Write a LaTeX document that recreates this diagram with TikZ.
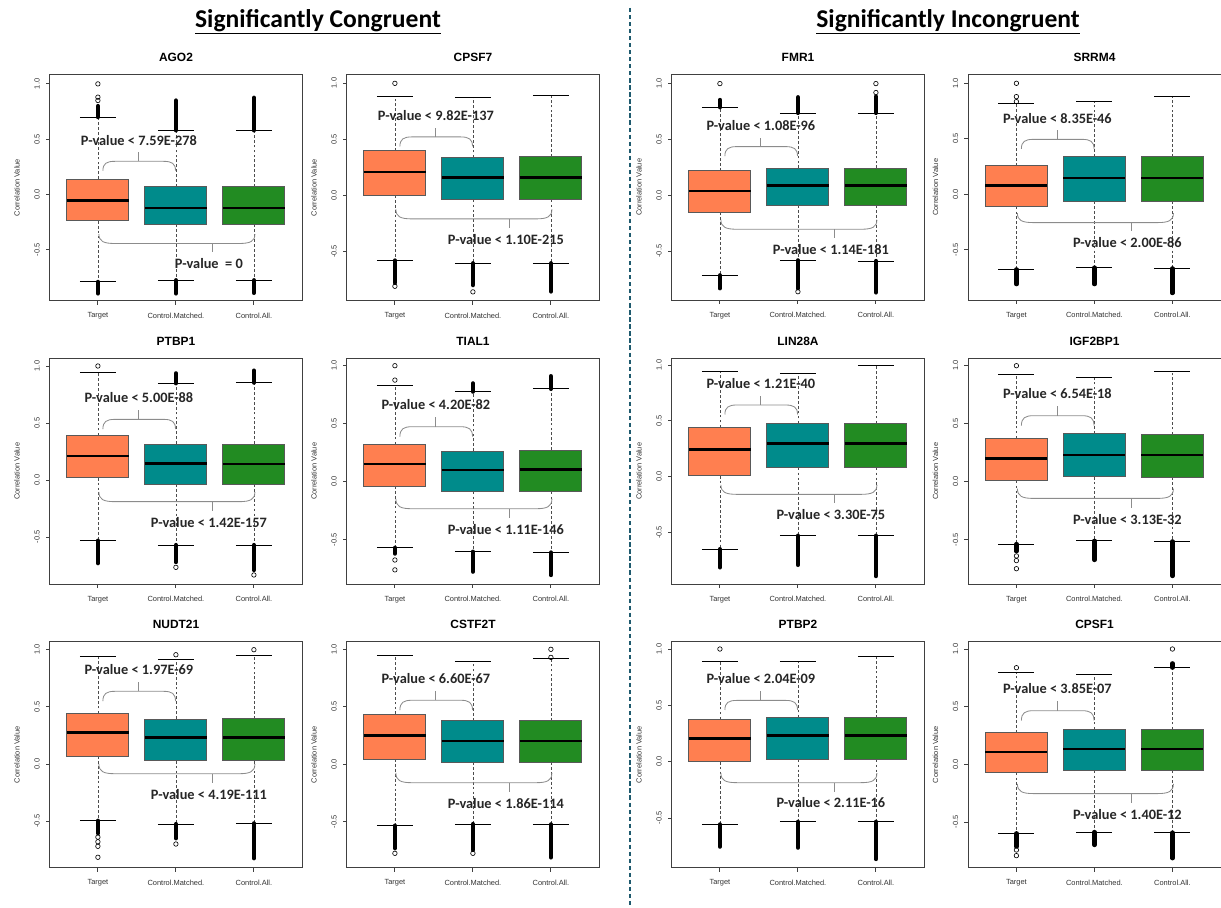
\documentclass[tikz,border=0pt]{standalone}
\usepackage{fontspec}
\setmainfont{Liberation Sans}
\newfontfamily\calfont{Carlito}

\definecolor{tgtcol}{RGB}{255,127,80}
\definecolor{mchcol}{RGB}{0,139,139}
\definecolor{allcol}{RGB}{34,139,34}
\definecolor{sepcol}{RGB}{30,90,110}
\definecolor{axcol}{RGB}{64,64,64}

\tikzset{
  frm/.style={draw=axcol, line width=0.6pt},
  bxs/.style={draw=black!65, line width=0.6pt},
  mdn/.style={black, line width=1.7pt},
  whisk/.style={black!70, line width=0.5pt, dash pattern=on 2pt off 1.5pt},
  stap/.style={black, line width=0.6pt},
  dens/.style={black, line width=3pt, line cap=round},
  dot/.style={circle, draw=black, line width=0.45pt, inner sep=0pt, minimum size=3.2pt},
  brk/.style={draw=black!45, line width=0.6pt},
  pval/.style={font=\calfont\bfseries\fontsize{10.2}{11}\selectfont, text=black!85},
  ttl/.style={font=\bfseries\fontsize{8.5}{9}\selectfont},
  axlab/.style={font=\fontsize{5.3}{6}\selectfont, text=black!80},
  head/.style={font=\calfont\bfseries\fontsize{18.2}{20}\selectfont},
}

% frame, title and axes of one panel: id, title, depth of zero line, px per unit
\newcommand{\panelaxes}[4]{%
  \pgfmathsetmacro{\frtop}{#3/#4}%
  \pgfmathsetmacro{\frbot}{-(226-#3)/#4}%
  \pgfmathsetmacro{\onepx}{1/#4}%
  \draw[frm] (0,\frbot) rectangle (253,\frtop);
  \node[ttl] (#1-title) at (126.5,\frtop+17*\onepx) {#2};
  \foreach \v/\lab [count=\k] in {1/1.0,0.5/0.5,0/0.0,-0.5/-0.5}{
    \draw[frm] (0,\v) -- (-4,\v);
    \node[axlab, rotate=90] (#1-ytick\k) at (-12.5,\v) {\lab};
  }
  \node[axlab, rotate=90] (#1-ylab) at (-32.5,{(\frtop+\frbot)/2}) {Correlation Value};
  \foreach \x/\lab [count=\k] in {48.4/Target,126.4/Control.Matched.,204.4/Control.All.}{
    \draw[frm] (\x,\frbot) -- (\x,\frbot-4*\onepx);
    \node[axlab] (#1-xlab\k) at (\x,\frbot-15*\onepx) {\lab};
  }
}
% one box: x, colour, q1, median, q3, lower whisker, upper whisker
\newcommand{\bx}[7]{%
  \draw[whisk] (#1,#5) -- (#1,#7);
  \draw[whisk] (#1,#3) -- (#1,#6);
  \draw[stap] (#1-18,#7) -- (#1+18,#7);
  \draw[stap] (#1-18,#6) -- (#1+18,#6);
  \filldraw[bxs, fill=#2] (#1-31,#3) rectangle (#1+31,#5);
  \draw[mdn] (#1-31,#4) -- (#1+31,#4);
}
\newcommand{\dns}[3]{\draw[dens] (#1,#2) -- (#1,#3);}
\newcommand{\pts}[3]{\foreach \v [count=\k] in {#3}{\node[dot] (#1-\k) at (#2,\v) {};}}
% brackets with p-values
\newcommand{\upbr}[3]{%
  \draw[brk] (53.4,#2-0.085) .. controls (53.4,#2-0.02) and (57,#2) .. (65.4,#2)
    -- (114,#2) .. controls (122.4,#2) and (126,#2-0.02) .. (126,#2-0.085);
  \draw[brk] (89.4,#2) -- (89.4,#2+0.08);
  \node[pval] (#1-up) at (89.4,#2+0.19) {#3};
}
\newcommand{\lowbr}[3]{%
  \draw[brk] (49.4,#2+0.085) .. controls (49.4,#2+0.02) and (54,#2) .. (65.4,#2)
    -- (189.4,#2) .. controls (200.8,#2) and (205.4,#2+0.02) .. (205.4,#2+0.085);
  \draw[brk] (163.4,#2) -- (163.4,#2-0.08);
  \node[pval] (#1-low) at (159.4,#2-0.18) {#3};
}

\begin{document}
\begin{tikzpicture}[x=0.025cm, y=-0.025cm]
\useasboundingbox (0,0) rectangle (1221,907);

\node[head] (congr) at (318,22) {\underline{Significantly Congruent}};
\node[head] (incongr) at (948,22) {\underline{Significantly Incongruent}};
\coordinate (sep-top) at (630,8);
\coordinate (sep-bot) at (630,907);
\draw[sepcol, line width=1.6pt, dash pattern=on 3pt off 2pt] (sep-top) -- (sep-bot);

% AGO2
\begin{scope}[shift={(49.5,194.5)}, yscale=-110.6]
  \panelaxes{ago}{AGO2}{120}{110.6}
  \bx{48.4}{tgtcol}{-0.238}{-0.054}{0.139}{-0.79}{0.70}
  \bx{126.4}{mchcol}{-0.271}{-0.12}{0.069}{-0.775}{0.58}
  \bx{204.4}{allcol}{-0.271}{-0.12}{0.069}{-0.775}{0.58}
  \dns{48.4}{0.70}{0.80} \dns{48.4}{-0.79}{-0.895}
  \dns{126.4}{0.58}{0.85} \dns{126.4}{-0.775}{-0.895}
  \dns{204.4}{0.58}{0.875} \dns{204.4}{-0.775}{-0.89}
  \pts{ago-t}{48.4}{0.85,0.88,1.0}
  \upbr{ago}{0.30}{P-value < 7.59E-278}
  \lowbr{ago}{-0.443}{P-value\ \ = 0}
\end{scope}

% CPSF7
\begin{scope}[shift={(346.5,195.3)}, yscale=-112.3]
  \panelaxes{cpsfs}{CPSF7}{120.8}{112.3}
  \bx{48.4}{tgtcol}{0.003}{0.21}{0.398}{-0.58}{0.878}
  \bx{126.4}{mchcol}{-0.039}{0.16}{0.338}{-0.605}{0.872}
  \bx{204.4}{allcol}{-0.039}{0.16}{0.344}{-0.605}{0.893}
  \dns{48.4}{-0.58}{-0.78} \dns{126.4}{-0.605}{-0.80} \dns{204.4}{-0.605}{-0.857}
  \pts{cpsfs-t}{48.4}{0.997,-0.81}
  \pts{cpsfs-m}{126.4}{-0.86}
  \upbr{cpsfs}{0.52}{P-value < 9.82E-137}
  \lowbr{cpsfs}{-0.21}{P-value < 1.10E-215}
\end{scope}

% FMR1
\begin{scope}[shift={(671.5,195.3)}, yscale=-111.7]
  \panelaxes{fmr}{FMR1}{121}{111.7}
  \bx{48.4}{tgtcol}{-0.152}{0.039}{0.22}{-0.716}{0.788}
  \bx{126.4}{mchcol}{-0.087}{0.087}{0.242}{-0.582}{0.737}
  \bx{204.4}{allcol}{-0.087}{0.087}{0.242}{-0.588}{0.737}
  \dns{48.4}{0.788}{0.854} \dns{48.4}{-0.716}{-0.833}
  \dns{126.4}{0.737}{0.878} \dns{126.4}{-0.582}{-0.833}
  \dns{204.4}{0.737}{0.884} \dns{204.4}{-0.588}{-0.87}
  \pts{fmr-t}{48.4}{1.0}
  \pts{fmr-m}{126.4}{-0.863}
  \pts{fmr-a}{204.4}{0.92,1.0}
  \upbr{fmr}{0.436}{P-value < 1.08E-96}
  \lowbr{fmr}{-0.304}{P-value < 1.14E-181}
\end{scope}

% SRRM4
\begin{scope}[shift={(968,194.3)}, yscale=-111]
  \panelaxes{srrm}{SRRM4}{120}{111}
  \bx{48.4}{tgtcol}{-0.111}{0.078}{0.258}{-0.676}{0.82}
  \bx{126.4}{mchcol}{-0.063}{0.147}{0.339}{-0.66}{0.835}
  \bx{204.4}{allcol}{-0.063}{0.147}{0.339}{-0.667}{0.88}
  \dns{48.4}{-0.676}{-0.81} \dns{126.4}{-0.66}{-0.81} \dns{204.4}{-0.667}{-0.89}
  \pts{srrm-t}{48.4}{0.835,0.88,1.0}
  \upbr{srrm}{0.495}{P-value < 8.35E-46}
  \lowbr{srrm}{-0.255}{P-value < 2.00E-86}
\end{scope}

% PTBP1
\begin{scope}[shift={(49.5,480)}, yscale=-114]
  \panelaxes{ptbpa}{PTBP1}{121.7}{114}
  \bx{48.4}{tgtcol}{0.02}{0.21}{0.392}{-0.532}{0.94}
  \bx{126.4}{mchcol}{-0.035}{0.146}{0.316}{-0.57}{0.848}
  \bx{204.4}{allcol}{-0.035}{0.14}{0.316}{-0.57}{0.854}
  \dns{48.4}{-0.532}{-0.73}
  \dns{126.4}{0.848}{0.936} \dns{126.4}{-0.57}{-0.72}
  \dns{204.4}{0.854}{0.96} \dns{204.4}{-0.57}{-0.79}
  \pts{ptbpa-t}{48.4}{1.0}
  \pts{ptbpa-m}{126.4}{-0.766}
  \pts{ptbpa-a}{204.4}{-0.833}
  \upbr{ptbpa}{0.532}{P-value < 5.00E-88}
  \lowbr{ptbpa}{-0.19}{P-value < 1.42E-157}
\end{scope}

% TIAL1
\begin{scope}[shift={(346.5,481.7)}, yscale=-116]
  \panelaxes{tial}{TIAL1}{123.4}{116}
  \bx{48.4}{tgtcol}{-0.037}{0.152}{0.322}{-0.569}{0.83}
  \bx{126.4}{mchcol}{-0.086}{0.10}{0.264}{-0.603}{0.776}
  \bx{204.4}{allcol}{-0.086}{0.106}{0.273}{-0.61}{0.80}
  \dns{48.4}{-0.569}{-0.62}
  \dns{126.4}{0.776}{0.848} \dns{126.4}{-0.603}{-0.776}
  \dns{204.4}{0.80}{0.91} \dns{204.4}{-0.61}{-0.805}
  \pts{tial-t}{48.4}{0.876,1.0,-0.675,-0.76}
  \upbr{tial}{0.474}{P-value < 4.20E-82}
  \lowbr{tial}{-0.233}{P-value < 1.11E-146}
\end{scope}

% LIN28A
\begin{scope}[shift={(671.5,476.7)}, yscale=-111.7]
  \panelaxes{lin}{LIN28A}{118.4}{111.7}
  \bx{48.4}{tgtcol}{0.009}{0.245}{0.442}{-0.648}{0.943}
  \bx{126.4}{mchcol}{0.081}{0.299}{0.478}{-0.528}{0.925}
  \bx{204.4}{allcol}{0.081}{0.299}{0.478}{-0.528}{0.995}
  \dns{48.4}{-0.648}{-0.812} \dns{126.4}{-0.528}{-0.79} \dns{204.4}{-0.528}{-0.89}
  \upbr{lin}{0.642}{P-value < 1.21E-40}
  \lowbr{lin}{-0.158}{P-value < 3.30E-75}
\end{scope}

% IGF2BP1
\begin{scope}[shift={(968,481.7)}, yscale=-116]
  \panelaxes{igf}{IGF2BP1}{123.4}{116}
  \bx{48.4}{tgtcol}{0.009}{0.20}{0.374}{-0.537}{0.928}
  \bx{126.4}{mchcol}{0.043}{0.23}{0.414}{-0.509}{0.90}
  \bx{204.4}{allcol}{0.037}{0.23}{0.408}{-0.514}{0.951}
  \dns{48.4}{-0.537}{-0.60} \dns{126.4}{-0.509}{-0.675} \dns{204.4}{-0.514}{-0.813}
  \pts{igf-t}{48.4}{1.0,-0.64,-0.68,-0.75}
  \upbr{igf}{0.569}{P-value < 6.54E-18}
  \lowbr{igf}{-0.144}{P-value < 3.13E-32}
\end{scope}

% NUDT21
\begin{scope}[shift={(49.5,764)}, yscale=-114.3]
  \panelaxes{nudt}{NUDT21}{122.3}{114.3}
  \bx{48.4}{tgtcol}{0.07}{0.274}{0.443}{-0.496}{0.945}
  \bx{126.4}{mchcol}{0.029}{0.233}{0.394}{-0.525}{0.915}
  \bx{204.4}{allcol}{0.029}{0.233}{0.397}{-0.519}{0.953}
  \dns{48.4}{-0.496}{-0.606} \dns{126.4}{-0.525}{-0.65} \dns{204.4}{-0.519}{-0.825}
  \pts{nudt-t}{48.4}{-0.64,-0.68,-0.72,-0.816}
  \pts{nudt-m}{126.4}{0.956,-0.70}
  \pts{nudt-a}{204.4}{1.0}
  \upbr{nudt}{0.636}{P-value < 1.97E-69}
  \lowbr{nudt}{-0.085}{P-value < 4.19E-111}
\end{scope}

% CSTF2T
\begin{scope}[shift={(346.5,764.3)}, yscale=-115]
  \panelaxes{cstf}{CSTF2T}{122.6}{115}
  \bx{48.4}{tgtcol}{0.046}{0.252}{0.435}{-0.533}{0.945}
  \bx{126.4}{mchcol}{0.02}{0.203}{0.38}{-0.519}{0.893}
  \bx{204.4}{allcol}{0.02}{0.203}{0.38}{-0.522}{0.922}
  \dns{48.4}{-0.533}{-0.73} \dns{126.4}{-0.519}{-0.745} \dns{204.4}{-0.522}{-0.81}
  \pts{cstf-t}{48.4}{-0.774}
  \pts{cstf-m}{126.4}{-0.774}
  \pts{cstf-a}{204.4}{0.93,1.0}
  \upbr{cstf}{0.557}{P-value < 6.60E-67}
  \lowbr{cstf}{-0.16}{P-value < 1.86E-114}
\end{scope}

% PTBP2
\begin{scope}[shift={(671.5,761.7)}, yscale=-112.7]
  \panelaxes{ptbpb}{PTBP2}{120}{112.7}
  \bx{48.4}{tgtcol}{0.0}{0.207}{0.376}{-0.556}{0.888}
  \bx{126.4}{mchcol}{0.018}{0.231}{0.393}{-0.533}{0.888}
  \bx{204.4}{allcol}{0.018}{0.231}{0.39}{-0.533}{0.938}
  \dns{48.4}{-0.556}{-0.754} \dns{126.4}{-0.533}{-0.763} \dns{204.4}{-0.533}{-0.864}
  \pts{ptbpb-t}{48.4}{1.0}
  \upbr{ptbpb}{0.544}{P-value < 2.04E-09}
  \lowbr{ptbpb}{-0.186}{P-value < 2.11E-16}
\end{scope}

% CPSF1
\begin{scope}[shift={(968,764.3)}, yscale=-115.3]
  \panelaxes{cpsfa}{CPSF1}{122.6}{115.3}
  \bx{48.4}{tgtcol}{-0.072}{0.107}{0.275}{-0.598}{0.798}
  \bx{126.4}{mchcol}{-0.055}{0.133}{0.303}{-0.587}{0.783}
  \bx{204.4}{allcol}{-0.055}{0.133}{0.303}{-0.592}{0.838}
  \dns{48.4}{-0.598}{-0.714} \dns{126.4}{-0.587}{-0.70}
  \dns{204.4}{0.838}{0.876} \dns{204.4}{-0.592}{-0.815}
  \pts{cpsfa-t}{48.4}{0.838,-0.743,-0.792}
  \pts{cpsfa-a}{204.4}{1.0}
  \upbr{cpsfa}{0.465}{P-value < 3.85E-07}
  \lowbr{cpsfa}{-0.254}{P-value < 1.40E-12}
\end{scope}
\end{tikzpicture}
\end{document}
